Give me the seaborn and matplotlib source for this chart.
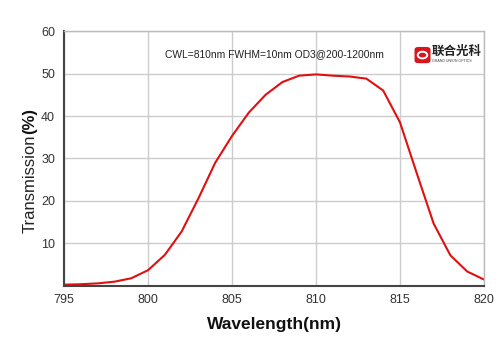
import seaborn as sns
import matplotlib.pyplot as plt
import matplotlib.patches as mpatches
import pandas as pd

# Transmission curve
wavelength = [795, 796, 797, 798, 799, 800, 801, 802, 803, 804, 805, 806, 807,
              808, 809, 810, 811, 812, 813, 814, 815, 816, 817, 818, 819, 820]
transmission = [0.3, 0.4, 0.6, 1.0, 1.8, 3.7, 7.3, 12.8, 20.6, 29.0, 35.3, 40.8, 45.0,
                48.0, 49.5, 49.8, 49.5, 49.3, 48.8, 46.0, 38.5, 26.5, 14.7, 7.2, 3.4, 1.5]
x_ticks = [795, 800, 805, 810, 815, 820]
y_ticks = [10, 20, 30, 40, 50, 60]

df = pd.DataFrame({'Wavelength': wavelength, 'Transmission': transmission})

sns.set_style('white')
plt.rcParams['font.family'] = ['Liberation Sans', 'Noto Sans CJK SC', 'DejaVu Sans']

fig = plt.figure(figsize=(5, 3.53), dpi=100)
ax = fig.add_axes([0.128, 0.19, 0.84, 0.722])

sns.lineplot(data=df, x='Wavelength', y='Transmission', color='#e01010', linewidth=1.5, ax=ax)

ax.set_xlim(795, 820)
ax.set_ylim(0, 60)
ax.set_xticks(x_ticks)
ax.set_yticks(y_ticks)
ax.grid(True, color='#cccccc', linewidth=1)
ax.tick_params(labelsize=9, colors='#333333', length=3, width=1)
ax.tick_params(axis='x', pad=3)

for side in ['left', 'bottom']:
    ax.spines[side].set_color('#444444')
    ax.spines[side].set_linewidth(1.5)
for side in ['right', 'top']:
    ax.spines[side].set_color('#bbbbbb')
    ax.spines[side].set_linewidth(1)

ax.set_xlabel('Wavelength(nm)', fontsize=12.5, fontweight='bold', labelpad=8, color='#111111')
ax.set_ylabel('')
fig.text(0.06, 0.48, 'Transmission', rotation=90, fontsize=12, ha='center', va='center', color='#222222')
fig.text(0.06, 0.657, '(%)', rotation=90, fontsize=12, fontweight='bold', ha='center', va='center', color='#111111')

ax.text(0.5, 0.91, 'CWL=810nm FWHM=10nm OD3@200-1200nm', transform=ax.transAxes,
        fontsize=7.4, ha='center', va='center', color='#222222')

# logo
logo = mpatches.FancyBboxPatch((0.831, 0.823), 0.028, 0.042, boxstyle='round,pad=0.002,rounding_size=0.008',
                               transform=fig.transFigure, facecolor='#d8141c', edgecolor='none')
fig.patches.append(logo)
fig.patches.append(mpatches.Circle((0.845, 0.844), 0.0095, transform=fig.transFigure,
                                   facecolor='none', edgecolor='white', linewidth=1.4))
fig.text(0.864, 0.852, '联合光科', fontsize=9, fontweight='bold', color='#222222', va='center', ha='left')
fig.text(0.865, 0.826, 'GRAND UNION OPTICS', fontsize=2.6, color='#444444', va='center', ha='left')

fig.savefig('out.png', dpi=100)
